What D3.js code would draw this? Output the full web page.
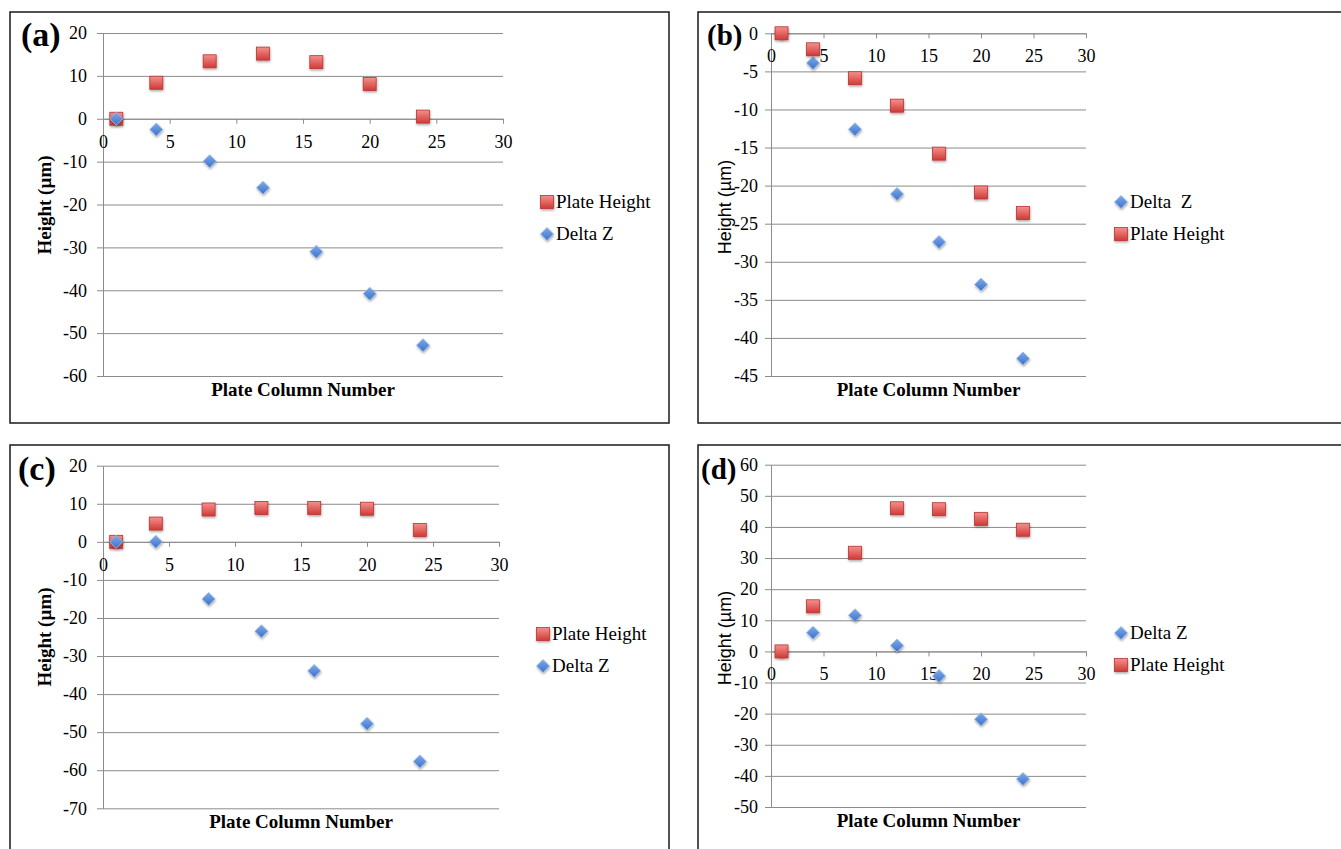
<!DOCTYPE html>
<html lang="en">
<head>
  <meta charset="UTF-8">
  <title>Plate Height and Delta Z vs Plate Column Number</title>
  <script src="https://cdn.jsdelivr.net/npm/d3@7/dist/d3.min.js"></script>
  <style>
    html, body { margin: 0; padding: 0; background: #fff; overflow: hidden; }
    svg text { font-family: "Liberation Serif", "Times New Roman", serif; }
    svg text.sans { font-family: "Liberation Sans", Arial, sans-serif; }
  </style>
</head>
<body>
  <script>
    // ------------- Data -------------
    const columns = [1, 4, 8, 12, 16, 20, 24];
    const xTicks = [0, 5, 10, 15, 20, 25, 30];

    const plateA = [0, 8.4, 13.4, 15.2, 13.2, 8.1, 0.5];
    const deltaA = [0, -2.5, -9.9, -16.1, -31.0, -40.8, -52.8];
    const yTicksA = [20, 10, 0, -10, -20, -30, -40, -50, -60];

    const plateB = [0, -2.1, -5.9, -9.5, -15.8, -20.9, -23.6];
    const deltaB = [0, -3.9, -12.6, -21.1, -27.4, -33.0, -42.7];
    const yTicksB = [0, -5, -10, -15, -20, -25, -30, -35, -40, -45];

    const plateC = [0, 4.8, 8.5, 8.9, 8.9, 8.7, 3.1];
    const deltaC = [0, 0, -15.0, -23.5, -33.9, -47.8, -57.7];
    const yTicksC = [20, 10, 0, -10, -20, -30, -40, -50, -60, -70];

    const plateD = [0, 14.5, 31.7, 46.0, 45.7, 42.6, 39.1];
    const deltaD = [0, 6.0, 11.6, 1.9, -7.9, -21.8, -41.0];
    const yTicksD = [60, 50, 40, 30, 20, 10, 0, -10, -20, -30, -40, -50];

    const W = 1341, H = 849;
    const gridColor = "#8c8c8c";

    const svg = d3.select("body").append("svg")
      .attr("width", W).attr("height", H)
      .style("display", "block");

    // ------------- Marker gradients / shadow -------------
    const defs = svg.append("defs");
    const redGrad = defs.append("linearGradient").attr("id", "redGrad")
      .attr("x1", 0).attr("y1", 0).attr("x2", 0).attr("y2", 1);
    redGrad.append("stop").attr("offset", "0%").attr("stop-color", "#f4908c");
    redGrad.append("stop").attr("offset", "100%").attr("stop-color", "#d03a36");
    const blueGrad = defs.append("linearGradient").attr("id", "blueGrad")
      .attr("x1", 0).attr("y1", 0).attr("x2", 0).attr("y2", 1);
    blueGrad.append("stop").attr("offset", "0%").attr("stop-color", "#7eaaea");
    blueGrad.append("stop").attr("offset", "100%").attr("stop-color", "#3d72c9");
    const shadow = defs.append("filter").attr("id", "shadow")
      .attr("x", "-50%").attr("y", "-50%").attr("width", "200%").attr("height", "200%");
    shadow.append("feDropShadow").attr("dx", 0.5).attr("dy", 1.5)
      .attr("stdDeviation", 1.3).attr("flood-color", "#000").attr("flood-opacity", 0.35);

    const series = {
      plate: { name: "Plate Height", shape: "square" },
      delta: { name: "Delta Z", shape: "diamond" }
    };

    // ------------- Panel layout -------------
    const panels = [
      { label: "(a)", box: [10, 12, 659, 411], plot: [103, 33, 503, 376],
        domain: [-60, 20], yTicks: yTicksA, plate: plateA, delta: deltaA,
        order: ["plate", "delta"], legend: [547, 202], boldY: true, pad: 16, labelSize: 34,
        labelPos: [21, 46], yTitle: [45, 205], xTitleY: 396, legendNames: {} },
      { label: "(b)", box: [698, 12, 700, 411], plot: [771, 33.3, 1086, 376],
        domain: [-45, 0], yTicks: yTicksB, plate: plateB, delta: deltaB,
        order: ["delta", "plate"], legend: [1121, 202], boldY: false, pad: 13, labelSize: 29,
        labelPos: [707, 45], yTitle: [725, 207], xTitleY: 396, legendNames: { delta: "Delta\u00a0\u00a0Z" } },
      { label: "(c)", box: [10, 445, 659, 440], plot: [103, 465.7, 499, 808.3],
        domain: [-70, 20], yTicks: yTicksC, plate: plateC, delta: deltaC,
        order: ["plate", "delta"], legend: [543, 634], boldY: true, pad: 16, labelSize: 34,
        labelPos: [18, 480], yTitle: [45, 637], xTitleY: 828, legendNames: {} },
      { label: "(d)", box: [698, 445, 700, 440], plot: [771, 464.7, 1086, 807],
        domain: [-50, 60], yTicks: yTicksD, plate: plateD, delta: deltaD,
        order: ["delta", "plate"], legend: [1121, 633], boldY: false, pad: 13, labelSize: 29,
        labelPos: [701, 479], yTitle: [725, 638], xTitleY: 827, legendNames: {} }
    ];

    function drawMarker(g, shape, cx, cy) {
      if (shape === "square") {
        g.append("rect")
          .attr("x", cx - 6.5).attr("y", cy - 6.5)
          .attr("width", 13).attr("height", 13)
          .attr("fill", "url(#redGrad)")
          .attr("stroke", "#b83431").attr("stroke-width", 0.8)
          .attr("filter", "url(#shadow)");
      } else {
        const r = 6.5;
        g.append("path")
          .attr("d", `M${cx},${cy - r}L${cx + r},${cy}L${cx},${cy + r}L${cx - r},${cy}Z`)
          .attr("fill", "url(#blueGrad)")
          .attr("stroke", "#9bbcec").attr("stroke-width", 0.8)
          .attr("filter", "url(#shadow)");
      }
    }

    panels.forEach(p => {
      const g = svg.append("g");
      const [bx, by, bw, bh] = p.box;
      g.append("rect").attr("x", bx).attr("y", by).attr("width", bw).attr("height", bh)
        .attr("fill", "#fff").attr("stroke", "#1a1a1a").attr("stroke-width", 1.5);

      const [left, top, right, bottom] = p.plot;
      const x = d3.scaleLinear().domain([0, 30]).range([left, right]);
      const y = d3.scaleLinear().domain(p.domain).range([bottom, top]);

      // y axis with gridlines
      const yAxis = g.append("g")
        .attr("transform", `translate(${left},0)`)
        .call(d3.axisLeft(y).tickValues(p.yTicks).tickSizeInner(-(right - left)).tickSizeOuter(0)
          .tickPadding(p.pad).tickFormat(d => d < 0 ? "-" + Math.abs(d) : String(d)));
      yAxis.attr("font-family", null).attr("font-size", null);
      yAxis.select(".domain").attr("stroke", gridColor);
      yAxis.selectAll(".tick line").attr("x1", -6).attr("stroke", gridColor);
      yAxis.selectAll(".tick text")
        .style("font-size", "18px").attr("fill", "#000");

      // x axis along y = 0
      const xAxis = g.append("g")
        .attr("transform", `translate(0,${y(0)})`)
        .call(d3.axisBottom(x).tickValues(xTicks).tickSize(5).tickSizeOuter(0).tickPadding(11));
      xAxis.attr("font-family", null).attr("font-size", null);
      xAxis.select(".domain").attr("stroke", gridColor);
      xAxis.selectAll(".tick line").attr("stroke", gridColor);
      xAxis.selectAll(".tick text")
        .style("font-size", "18px").attr("fill", "#000");

      // points
      p.order.forEach(key => {
        const vals = p[key];
        const mg = g.append("g");
        columns.forEach((c, i) => drawMarker(mg, series[key].shape, x(c), y(vals[i])));
      });

      // legend
      p.order.forEach((key, i) => {
        const ly = p.legend[1] + i * 32;
        drawMarker(g, series[key].shape, p.legend[0], ly);
        g.append("text")
          .attr("x", p.legend[0] + 9).attr("y", ly + 6)
          .style("font-size", "19px")
          .text(p.legendNames[key] || series[key].name);
      });

      // titles
      g.append("text")
        .attr("x", (left + right) / 2).attr("y", p.xTitleY)
        .attr("text-anchor", "middle")
        .style("font-size", "19px").style("font-weight", "bold")
        .text("Plate Column Number");
      g.append("text")
        .attr("class", p.boldY ? null : "sans")
        .attr("transform", `translate(${p.yTitle[0] + 6},${p.yTitle[1]}) rotate(-90)`)
        .attr("text-anchor", "middle")
        .style("font-size", p.boldY ? "19px" : "18px")
        .style("font-weight", p.boldY ? "bold" : "normal")
        .text("Height (µm)");
      g.append("text")
        .attr("x", p.labelPos[0]).attr("y", p.labelPos[1])
        .style("font-size", p.labelSize + "px").style("font-weight", "bold")
        .text(p.label);
    });
  </script>
</body>
</html>
